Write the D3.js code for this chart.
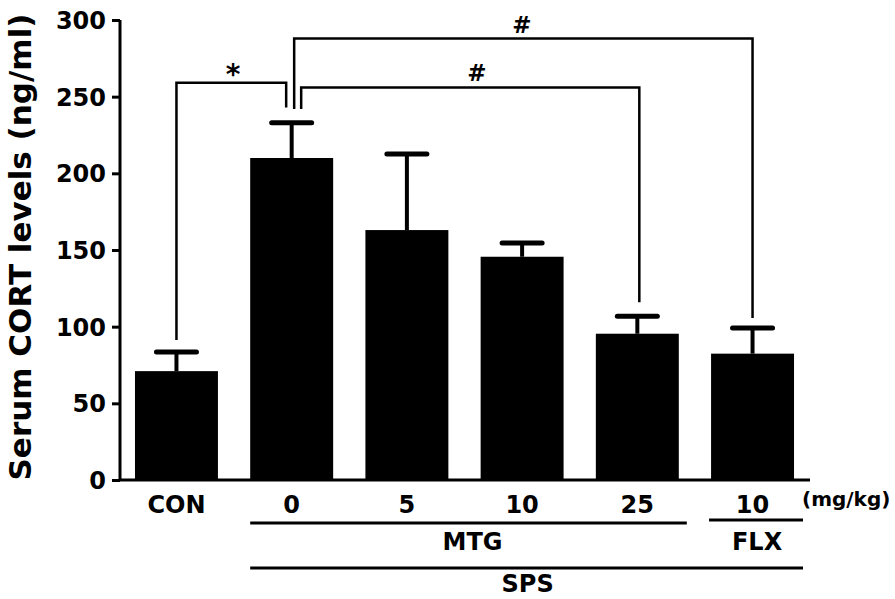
<!DOCTYPE html>
<html>
<head>
<meta charset="utf-8">
<script src="https://cdn.jsdelivr.net/npm/d3@7"></script>
<style>
  html, body { margin: 0; padding: 0; background: #fff; }
  svg { display: block; }
  text { font-family: "DejaVu Sans", Verdana, sans-serif; font-weight: bold; fill: #000; }
</style>
</head>
<body>
<svg id="chart" width="895" height="599"></svg>
<script>
// ---- data ----
const categories = ["CON", "0", "5", "10", "25", "10"];
const means = [71, 210, 163, 145.6, 95.4, 82.4];
const sems = [12.5, 23, 49.6, 8.9, 11.4, 16.7];
const yTicks = [0, 50, 100, 150, 200, 250, 300];
const yTitle = "Serum CORT levels (ng/ml)";
const unitLabel = "(mg/kg)";
// groups: label, first and last category index
const groups = [
  { label: "MTG", from: 1, to: 4, level: 1 },
  { label: "FLX", from: 5, to: 5, level: 1 },
  { label: "SPS", from: 1, to: 5, level: 2 }
];
// significance brackets: from/to category index, bracket top value, end values
const brackets = [
  { label: "*", from: 0, to: 1, top: 259, endFrom: 91.3, endTo: 243 },
  { label: "#", from: 1, to: 5, top: 288, endFrom: 242, endTo: 105.6 },
  { label: "#", from: 1, to: 4, top: 256, endFrom: 242, endTo: 116 }
];

// ---- layout ----
const svg = d3.select("#chart");
const x0 = 120, x1 = 809, yBottom = 480, yTop = 20;

const x = d3.scaleBand()
  .domain(d3.range(categories.length))
  .range([x0, x1])
  .paddingInner(0.28)
  .paddingOuter(0.13);

const y = d3.scaleLinear().domain([0, 300]).range([yBottom, yTop]);

// bars
svg.append("g").selectAll("rect")
  .data(means)
  .join("rect")
  .attr("x", (d, i) => x(i))
  .attr("y", d => y(d))
  .attr("width", x.bandwidth())
  .attr("height", d => y(0) - y(d))
  .attr("fill", "#000");

// error bars
const eb = svg.append("g").attr("stroke", "#000").attr("stroke-linecap", "round");
means.forEach((m, i) => {
  const cx = x(i) + x.bandwidth() / 2;
  eb.append("line").attr("x1", cx).attr("x2", cx)
    .attr("y1", y(m)).attr("y2", y(m + sems[i])).attr("stroke-width", 4).attr("stroke-linecap", "butt");
  eb.append("line").attr("x1", cx - 20).attr("x2", cx + 20)
    .attr("y1", y(m + sems[i])).attr("y2", y(m + sems[i])).attr("stroke-width", 5);
});

// y axis
const yAxis = svg.append("g")
  .attr("transform", `translate(${x0},0)`)
  .call(d3.axisLeft(y).tickValues(yTicks).tickSize(8).tickPadding(6));
yAxis.select(".domain").attr("stroke-width", 3).attr("d", `M0,${yTop}V${yBottom}`);
yAxis.selectAll(".tick line").attr("stroke-width", 3);
yAxis.selectAll(".tick text")
  .style("font-family", '"DejaVu Sans", Verdana, sans-serif')
  .style("font-weight", "bold")
  .style("font-size", "24px")
  .attr("dy", "0.36em");

// baseline
svg.append("line")
  .attr("x1", x0 - 1).attr("x2", x1 + 1)
  .attr("y1", yBottom).attr("y2", yBottom)
  .attr("stroke", "#000").attr("stroke-width", 3);

// y title
svg.append("text")
  .attr("transform", `translate(31,${(yTop + yBottom) / 2 - 3}) rotate(-90)`)
  .attr("text-anchor", "middle")
  .style("font-size", "31px")
  .text(yTitle);

// category labels
svg.append("g").selectAll("text")
  .data(categories)
  .join("text")
  .attr("x", (d, i) => x(i) + x.bandwidth() / 2)
  .attr("y", 513)
  .attr("text-anchor", "middle")
  .style("font-size", "24px")
  .text(d => d);

svg.append("text")
  .attr("x", 802).attr("y", 506)
  .style("font-size", "20px")
  .text(unitLabel);

// group lines and labels
groups.forEach(g => {
  let xa, xb, ly, ty;
  if (g.level === 1) {
    xa = x(g.from) + (g.from === 1 ? 0 : -2);
    xb = x(g.to) + x.bandwidth() + (g.to === 5 ? 9 : 8);
    ly = g.to === 5 ? 520 : 523;
    ty = 550;
  } else {
    xa = x(g.from);
    xb = x(g.to) + x.bandwidth() + 9;
    ly = 568;
    ty = 592;
  }
  svg.append("line")
    .attr("x1", xa).attr("x2", xb).attr("y1", ly).attr("y2", ly)
    .attr("stroke", "#000").attr("stroke-width", 3);
  const tx = g.label === "MTG" ? (x(g.from) + x(g.to) + x.bandwidth()) / 2 + 8
           : (xa + xb) / 2 + 1;
  svg.append("text")
    .attr("x", tx).attr("y", ty)
    .attr("text-anchor", "middle")
    .style("font-size", "24px")
    .text(g.label);
});

// significance brackets
const offs = [
  { a: 0, b: -5.5, lx: 233, ly: 84, fs: 28 },
  { a: 2.5, b: 0, lx: 522, ly: 33, fs: 23 },
  { a: 9.5, b: 2, lx: 477, ly: 81, fs: 23 }
];
brackets.forEach((b, k) => {
  const xa = x(b.from) + x.bandwidth() / 2 + offs[k].a;
  const xb = x(b.to) + x.bandwidth() / 2 + offs[k].b;
  svg.append("path")
    .attr("d", `M${xa},${y(b.endFrom)}V${y(b.top)}H${xb}V${y(b.endTo)}`)
    .attr("fill", "none").attr("stroke", "#000").attr("stroke-width", 2.5);
  svg.append("text")
    .attr("x", offs[k].lx).attr("y", offs[k].ly)
    .attr("text-anchor", "middle")
    .style("font-size", offs[k].fs + "px")
    .text(b.label);
});
</script>
</body>
</html>
